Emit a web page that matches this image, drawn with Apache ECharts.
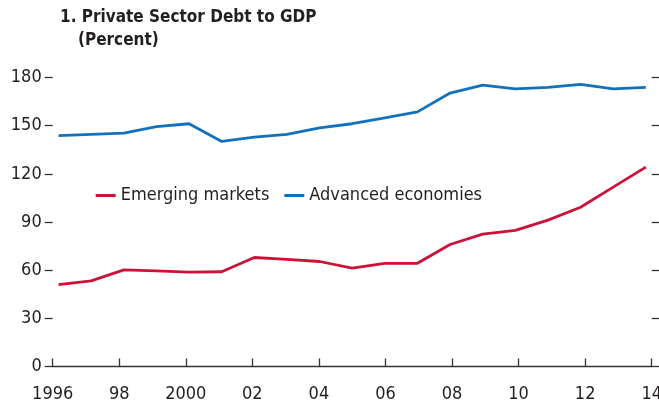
<!DOCTYPE html>
<html>
<head>
<meta charset="utf-8">
<script src="https://cdn.jsdelivr.net/npm/echarts@6/dist/echarts.min.js"></script>
<style>
html,body{margin:0;padding:0;background:#fff;}
#chart{width:659px;height:404px;}
</style>
</head>
<body>
<div id="chart"></div>
<script>
const years = [1996,1997,1998,1999,2000,2001,2002,2003,2004,2005,2006,2007,2008,2009,2010,2011,2012,2013,2014];
const emergingMarkets = [51.0,53.3,60.2,59.6,58.8,59.0,67.9,66.7,65.4,61.2,64.2,64.3,76.0,82.5,84.8,91.2,99.2,111.7,124.2];
const advancedEconomies = [143.8,144.6,145.4,149.4,151.2,140.2,142.9,144.6,148.6,151.2,154.9,158.6,170.3,175.2,172.9,173.8,175.7,172.9,173.8];
const xTickLabels = ['1996','98','2000','02','04','06','08','10','12','14'];
const yTicks = [0,30,60,90,120,150,180];

const FONT = "'Liberation Sans Narrow','Arial Narrow','DejaVu Sans Condensed',sans-serif";
const TXT = '#231f20';
const RED = '#cc1237';
const BLUE = '#1271bd';

const chart = echarts.init(document.getElementById('chart'), null, {renderer:'canvas'});
chart.setOption({
  animation: false,
  backgroundColor: '#fff',
  title: [
    {text:'1. Private Sector Debt to GDP', left:60, top:9.5, padding:0,
     textStyle:{fontFamily:FONT, fontWeight:'bold', fontSize:17, color:TXT}},
    {text:'(Percent)', left:78, top:32.5, padding:0,
     textStyle:{fontFamily:FONT, fontWeight:'bold', fontSize:17, color:TXT}}
  ],
  legend: {
    left: 95.7, top: 186.5, padding: 0, itemGap: 15,
    itemWidth: 20, itemHeight: 3, icon: 'rect',
    textStyle: {fontFamily:FONT, fontSize:18, color:TXT},
    data: ['Emerging markets','Advanced economies']
  },
  grid: {left:52.7, right:7.3, top:77.5, bottom:37.5, containLabel:false, outerBoundsMode:'none'},
  xAxis: [
    {type:'value', min:years[0], max:years[years.length-1], interval:2, position:'bottom',
     axisLine:{show:true, lineStyle:{color:'#333', width:1.3}},
     axisTick:{show:true, inside:true, length:8, lineStyle:{color:'#333', width:1.3}},
     axisLabel:{margin:19, fontFamily:FONT, fontSize:18, color:TXT, hideOverlap:false,
       formatter: v => xTickLabels[Math.round((v - years[0]) / 2)] || ''},
     splitLine:{show:false}},
    {type:'value', min:1995.82, max:2014.18, show:false}
  ],
  yAxis: [
    {type:'value', position:'left', min:yTicks[0], max:yTicks[yTicks.length-1], interval:30,
     axisLine:{show:false},
     axisTick:{show:true, length:8, lineStyle:{color:'#333', width:1.3}},
     axisLabel:{margin:11, fontFamily:FONT, fontSize:18, color:TXT},
     splitLine:{show:false}},
    {type:'value', position:'right', min:yTicks[0], max:yTicks[yTicks.length-1], interval:30,
     axisLine:{show:false},
     axisTick:{show:true, length:8, lineStyle:{color:'#333', width:1.3}},
     axisLabel:{show:false},
     splitLine:{show:false}}
  ],
  series: [
    {name:'Emerging markets', type:'line', xAxisIndex:1, yAxisIndex:0,
     data: years.map((y,i)=>[y, emergingMarkets[i]]),
     showSymbol:false, symbol:'none', color:RED,
     lineStyle:{color:RED, width:2.8}},
    {name:'Advanced economies', type:'line', xAxisIndex:1, yAxisIndex:0,
     data: years.map((y,i)=>[y, advancedEconomies[i]]),
     showSymbol:false, symbol:'none', color:BLUE,
     lineStyle:{color:BLUE, width:2.8}}
  ]
});
</script>
</body>
</html>
